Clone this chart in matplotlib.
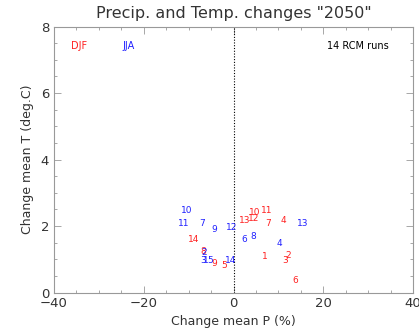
import matplotlib
matplotlib.use("Agg")
import matplotlib.pyplot as plt
from matplotlib.ticker import MultipleLocator

# Data: run numbers, precipitation change (%) and temperature change (deg C)
runs = [str(i) for i in range(1, 15)]
djf_p = [7.0, 12.1, 11.5, 11.1, -2.0, 13.7, 7.8, -6.7, -4.4, 4.8, 7.4, 4.4, 2.6, -8.9]
djf_t = [1.07, 1.10, 0.97, 2.18, 0.80, 0.36, 2.08, 1.22, 0.87, 2.40, 2.48, 2.23, 2.18, 1.58]
jja_p = [-6.1, -6.5, -6.8, 10.2, -5.2, 2.4, -7.0, 4.4, -4.3, -10.5, -11.0, -0.4, 15.4, -0.7]
jja_t = [0.97, 1.21, 0.97, 1.48, 0.97, 1.58, 2.08, 1.67, 1.88, 2.48, 2.08, 1.97, 2.08, 0.97]

plt.rcParams['font.family'] = ['DejaVu Sans']
fig = plt.figure(figsize=(4.19, 3.31), dpi=100)
ax = fig.add_axes([0.1289, 0.1163, 0.8568, 0.8036])
ax.set_xlim(-40, 40)
ax.set_ylim(0, 8)

red = '#ff2020'
blue = '#2020ff'
for lab, x, y in zip(runs, djf_p, djf_t):
    ax.text(x, y, lab, color=red, fontsize=6.5, ha='center', va='center')
for lab, x, y in zip(runs, jja_p, jja_t):
    ax.text(x, y, lab, color=blue, fontsize=6.5, ha='center', va='center')

ax.axvline(0, color='black', linestyle=(0, (1, 1.5)), linewidth=0.8)

ax.text(-34.5, 7.42, 'DJF', color=red, fontsize=7, ha='center', va='center')
ax.text(-23.4, 7.42, 'JJA', color=blue, fontsize=7, ha='center', va='center')
ax.text(27.7, 7.42, '14 RCM runs', color='black', fontsize=7, ha='center', va='center')

ax.set_title('Precip. and Temp. changes "2050"', fontsize=11.5, color='#333333', pad=6)
ax.set_xlabel('Change mean P (%)', fontsize=9, color='#333333', labelpad=3)
ax.set_ylabel('Change mean T (deg.C)', fontsize=9, color='#333333', labelpad=5)

ax.xaxis.set_major_locator(MultipleLocator(20))
ax.xaxis.set_minor_locator(MultipleLocator(5))
ax.yaxis.set_major_locator(MultipleLocator(2))
ax.yaxis.set_minor_locator(MultipleLocator(0.5))
ax.tick_params(which='both', direction='in', top=True, right=True, colors='#999999',
               labelcolor='#333333', labelsize=9.5, width=0.6)
ax.tick_params(which='major', length=5)
ax.tick_params(which='minor', length=2.5)
for s in ax.spines.values():
    s.set_color('#999999')
    s.set_linewidth(0.8)

fig.savefig('out.png', dpi=100)
